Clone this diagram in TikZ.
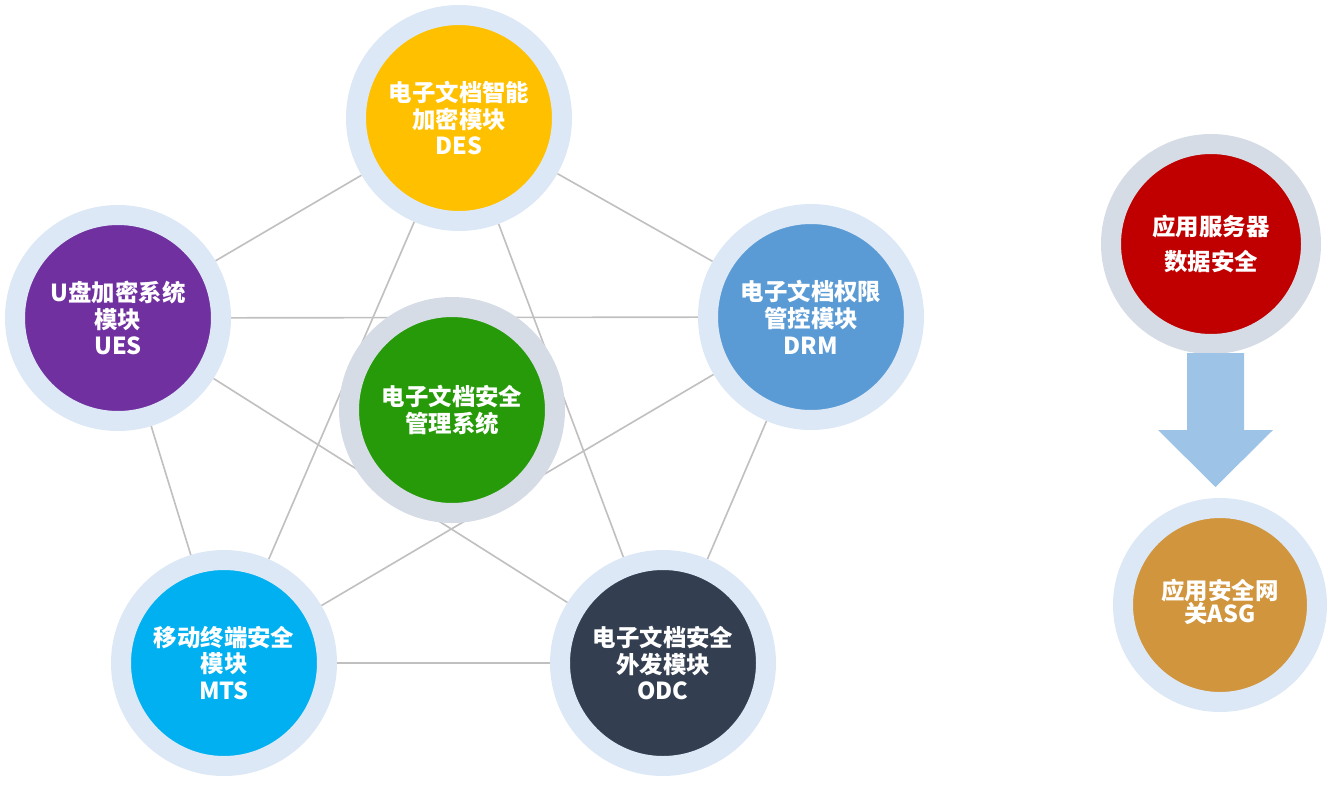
\documentclass[tikz,border=0pt]{standalone}
\usepackage{fontspec}
\newfontfamily\cjk{Noto Sans CJK SC}
\usetikzlibrary{backgrounds}
\definecolor{ringb}{HTML}{DCE8F5}
\definecolor{ringg}{HTML}{D6DCE5}
\definecolor{des}{HTML}{FFC000}
\definecolor{ues}{HTML}{7030A0}
\definecolor{drm}{HTML}{5B9BD5}
\definecolor{mts}{HTML}{00B0F0}
\definecolor{odc}{HTML}{333F50}
\definecolor{core}{HTML}{269A08}
\definecolor{srv}{HTML}{C00000}
\definecolor{asg}{HTML}{D0953D}
\definecolor{arrowb}{HTML}{9DC3E6}
\definecolor{link}{HTML}{C0C0C0}
\tikzstyle{module}=[circle,minimum size=6.18cm,inner sep=0pt,line width=0.6cm,draw=ringb,
	text=white,align=center,font=\cjk\bfseries\fontsize{20}{23}\selectfont]

\begin{document}
\begin{tikzpicture}[x=0.03cm,y=-0.03cm]
	\useasboundingbox (0,0) rectangle (1336,785);
	\node[module,fill=des] (des) at (459,118) {电子文档智能\\加密模块\\DES};
	\node[module,fill=ues] (ues) at (118,318) {U盘加密系统\\模块\\UES};
	\node[module,fill=drm] (drm) at (811,317) {电子文档权限\\管控模块\\DRM};
	\node[module,fill=mts] (mts) at (224,663) {移动终端安全\\模块\\MTS};
	\node[module,fill=odc] (odc) at (663,663) {电子文档安全\\外发模块\\ODC};
	\node[module,fill=core,draw=ringg] (core) at (452,410) {电子文档安全\\管理系统};
	\node[module,fill=srv,draw=ringg,minimum size=6cm] (srv) at (1211,244) {应用服务器\\[7pt]数据安全};
	\node[module,fill=asg,minimum size=5.82cm] (asg) at (1220,605) {\raisebox{0.45cm}{\begin{tabular}{@{}c@{}}应用安全网\\[-4pt]关ASG\end{tabular}}};
	% links between the five modules
	\begin{scope}[on background layer]
	\path[link,line width=1.4pt]
		(des) edge (ues) edge (drm) edge (mts) edge (odc)
		(ues) edge (drm) edge (mts) edge (odc)
		(drm) edge (mts) edge (odc)
		(mts) edge (odc);
	\end{scope}
	% arrow from server to gateway
	\fill[arrowb] (1187,353) -- (1244,353) -- (1244,430) -- (1273,430) -- (1215.5,487)
		-- (1158,430) -- (1187,430) -- cycle;
\end{tikzpicture}
\end{document}
